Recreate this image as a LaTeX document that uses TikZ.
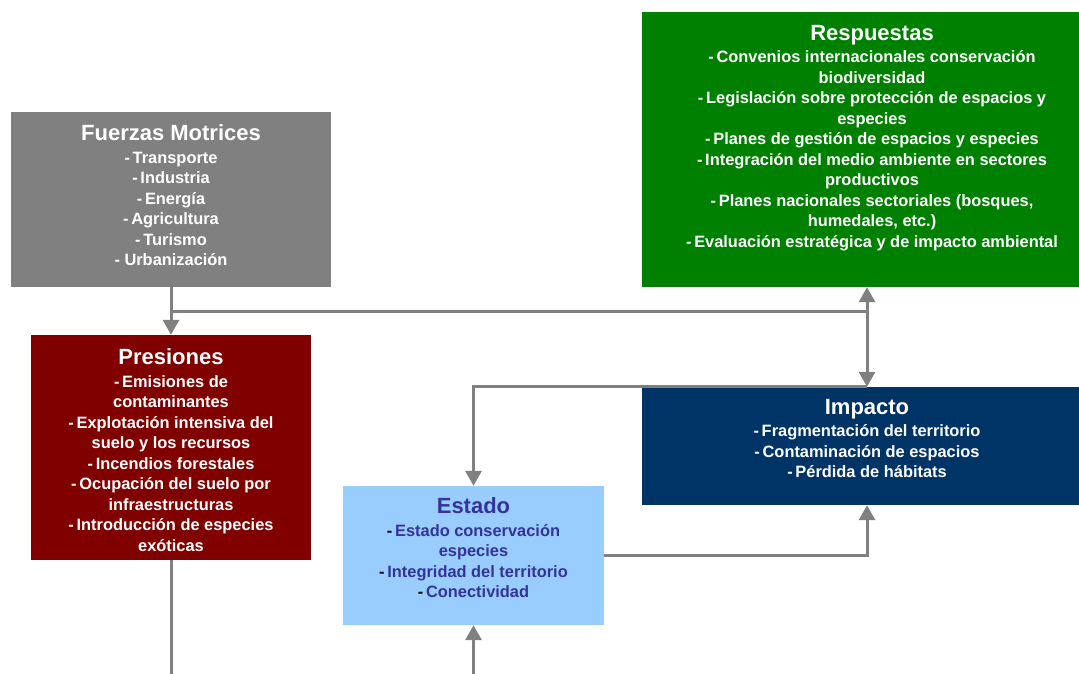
\documentclass[tikz,border=0pt]{standalone}
\usepackage{fontspec}
\setmainfont{Liberation Sans}
\usetikzlibrary{arrows.meta}
\definecolor{linegray}{HTML}{808080}
\definecolor{drivergray}{HTML}{808080}
\definecolor{pressred}{HTML}{800000}
\definecolor{respgreen}{HTML}{008000}
\definecolor{impactblue}{HTML}{003366}
\definecolor{statefill}{HTML}{99CCFF}
\definecolor{statetext}{HTML}{333399}
\newcommand{\boxtitle}[1]{{\fontsize{22}{24}\selectfont #1}\\[2pt]}
\newcommand{\bd}{-\,}
\newcommand{\sdash}{\textcolor{black}{-}\,}
\begin{document}
\begin{tikzpicture}[x=1pt,y=-1pt,
  panel/.style={rectangle, inner sep=0pt, draw=none},
  label/.style={anchor=north, inner sep=0pt, align=center, text=white,
    font=\bfseries\fontsize{16.4}{20.5}\selectfont},
  conn/.style={draw=linegray, line width=3pt},
  arr/.style={conn, -{Triangle[width=16pt,length=15pt]}},
  darr/.style={conn, {Triangle[width=16pt,length=15pt]}-{Triangle[width=16pt,length=15pt]}}]
\useasboundingbox[fill=white] (0,0) rectangle (1079,673);

% panels
\node[panel, fill=drivergray, minimum width=320pt, minimum height=175pt] (F) at (171,199.5) {};
\node[panel, fill=pressred, minimum width=280pt, minimum height=225pt] (P) at (171,447.5) {};
\node[panel, fill=respgreen, minimum width=450pt, minimum height=275pt] (R) at (867,149.5) {};
\node[panel, fill=impactblue, minimum width=450pt, minimum height=118pt] (I) at (867,446) {};
\node[panel, fill=statefill, minimum width=261pt, minimum height=139pt] (E) at (473.5,555.5) {};

% panel texts
\node[label] (Ft) at ([yshift=-13pt]F.north) {\boxtitle{Fuerzas Motrices}
\bd Transporte\\\bd Industria\\\bd Energía\\\bd Agricultura\\\bd Turismo\\- Urbanización};
\node[label] (Pt) at ([yshift=-14pt]P.north) {\boxtitle{Presiones}
\bd Emisiones de\\contaminantes\\\bd Explotación intensiva del\\suelo y los recursos\\
\bd Incendios forestales\\\bd Ocupación del suelo por\\infraestructuras\\
\bd Introducción de especies\\exóticas};
\node[label] (Rt) at ([yshift=-13pt,xshift=5pt]R.north) {\boxtitle{Respuestas}
\bd Convenios internacionales conservación\\biodiversidad\\
\bd Legislación sobre protección de espacios y\\especies\\
\bd Planes de gestión de espacios y especies\\
\bd Integración del medio ambiente en sectores\\productivos\\
\bd Planes nacionales sectoriales (bosques,\\humedales, etc.)\\
\bd Evaluación estratégica y de impacto ambiental};
\node[label] (It) at ([yshift=-12pt]I.north) {\boxtitle{Impacto}
\bd Fragmentación del territorio\\\bd Contaminación de espacios\\\bd Pérdida de hábitats};
\node[label, text=statetext] (Et) at ([yshift=-12pt]E.north) {\boxtitle{Estado}
\sdash Estado conservación\\especies\\\sdash Integridad del territorio\\\sdash Conectividad};

% connectors
\coordinate (split) at (171,311);
\coordinate (rjoin) at (867,311);
\coordinate (loop) at (171,684);
\draw[arr] (F.south) -- (P.north);
\draw[conn] (split) -- (rjoin);
\draw[darr] (R.south) -- (I.north);
\draw[arr] (I.north) -| (E.north);
\draw[arr] (E.east) -| (I.south);
\draw[arr] (P.south) -- (loop) -| (E.south);
\end{tikzpicture}
\end{document}
